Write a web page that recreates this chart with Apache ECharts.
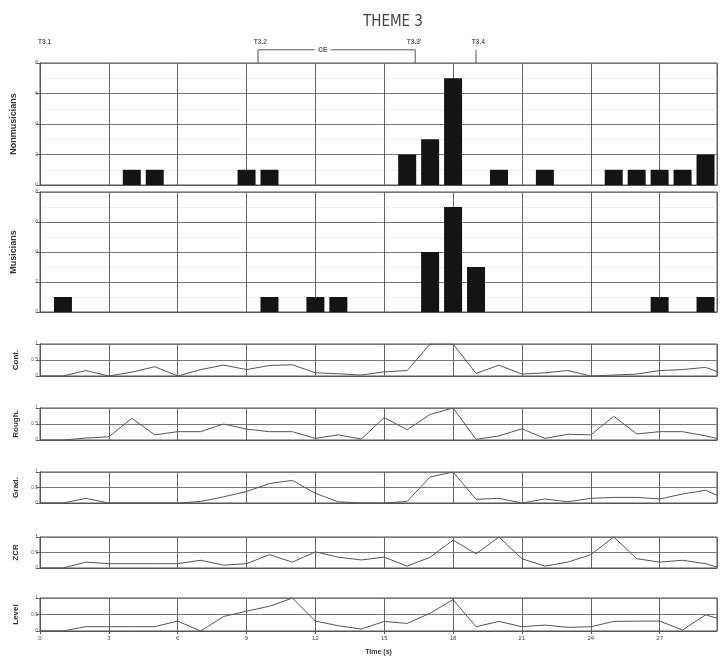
<!DOCTYPE html>
<html>
<head>
<meta charset="utf-8">
<script src="https://cdn.jsdelivr.net/npm/echarts@6/dist/echarts.min.js"></script>
<style>
  html, body { margin: 0; padding: 0; background: #fff; }
  #chart { width: 723px; height: 662px; }
</style>
</head>
<body>
<div id="chart"></div>
<script>
// time in seconds (bars are one per second)
var barTimes = [];
for (var s = 0; s <= 29; s++) barTimes.push(s);
var lineTimes = barTimes.concat([29.5]);

// number of listeners marking each second
var nonmusicians = [0,0,0,0,1,1,0,0,0,1,1,0,0,0,0,0,2,3,7,0,1,0,1,0,0,1,1,1,1,2];
var musicians    = [0,1,0,0,0,0,0,0,0,0,1,0,1,1,0,0,0,4,7,3,0,0,0,0,0,0,0,1,0,1];

// normalised acoustic features
var cont  = [0,0,0.17,0,0.12,0.29,0,0.2,0.34,0.2,0.33,0.35,0.1,0.07,0.03,0.13,0.17,1,1,0.08,0.34,0.06,0.1,0.17,0,0.03,0.06,0.17,0.2,0.27,0.14];
var rough = [0,0,0.06,0.1,0.68,0.16,0.26,0.26,0.5,0.34,0.26,0.26,0.05,0.16,0.03,0.7,0.32,0.8,1,0.02,0.13,0.35,0.05,0.18,0.16,0.74,0.19,0.26,0.26,0.13,0.05];
var grad  = [0,0,0.15,0,0,0,0,0.05,0.2,0.37,0.63,0.73,0.31,0.04,0,0,0.05,0.84,1,0.12,0.15,0,0.13,0.04,0.15,0.18,0.18,0.13,0.29,0.41,0.25];
var zcr   = [0,0,0.19,0.14,0.14,0.14,0.14,0.25,0.09,0.14,0.43,0.19,0.52,0.35,0.26,0.35,0.06,0.35,0.9,0.46,1,0.3,0.06,0.19,0.43,1,0.3,0.19,0.25,0.14,0.03];
var level = [0,0,0.13,0.13,0.13,0.13,0.3,0,0.44,0.6,0.75,1,0.3,0.16,0.06,0.29,0.23,0.54,0.95,0.13,0.29,0.13,0.18,0.11,0.13,0.29,0.3,0.3,0.03,0.49,0.39];

var panelNames = ['Nonmusicians', 'Musicians', 'Cont.', 'Rough.', 'Grad.', 'ZCR', 'Level'];
var panelData  = [nonmusicians, musicians, cont, rough, grad, zcr, level];

// segment annotations above the top panel
var annotLabels = ['T3.1', 'T3.2', "T3.3'", 'T3.4'];
var annotTimes  = [0.2, 9.6, 16.3, 19.1];
var bracketTimes = [9.5, 16.35];
var bracketLabel = 'CE';
var tickTime34 = 19;

var xMax = 29.5;
var xTickLabels = ['0', '3', '6', '9', '12', '15', '18', '21', '24', '27'];

// layout: [top, height] in px
var layout = [[63, 122], [192, 120], [344, 32], [408, 32], [472, 31], [537, 31], [598, 33]];

var chart = echarts.init(document.getElementById('chart'), null, { renderer: 'canvas' });

var grids = [], xAxes = [], yAxes = [], series = [];
var font = 'Liberation Sans, Arial, sans-serif';

layout.forEach(function (l, i) {
  var isBar = i < 2;
  var last = i === layout.length - 1;
  grids.push({ left: 40, right: 6, top: l[0], height: l[1], show: true, borderColor: '#555', borderWidth: 1 });
  xAxes.push({
    type: 'value', gridIndex: i, min: 0, max: xMax, interval: 3,
    axisLine: { show: true, lineStyle: { color: '#555' } },
    axisTick: { show: last, length: 3, lineStyle: { color: '#555' } },
    axisLabel: {
      show: last, fontSize: 6, color: '#444', margin: 4, fontFamily: font,
      showMaxLabel: false,
      formatter: function (v) { return xTickLabels[Math.round(v / 3)] || ''; }
    },
    splitLine: { show: true, lineStyle: { color: '#666', width: 1 } },
    name: last ? 'Time (s)' : '',
    nameLocation: 'middle', nameGap: 18,
    nameTextStyle: { fontSize: 7, fontWeight: 'bold', color: '#333', fontFamily: font }
  });
  yAxes.push({
    type: 'value', gridIndex: i, min: 0,
    max: isBar ? 8 : 1, interval: isBar ? 2 : 0.5,
    axisLine: { show: true, lineStyle: { color: '#555' } },
    axisTick: { show: true, length: 4, lineStyle: { color: '#666' } },
    axisLabel: { fontSize: 5, color: '#555', margin: 2, fontFamily: font },
    splitLine: { show: true, lineStyle: { color: '#777', width: 1 } },
    minorTick: { show: false, splitNumber: 2 },
    minorSplitLine: { show: isBar, lineStyle: { color: '#e2e2e2', type: 'dotted' } },
    name: panelNames[i], nameLocation: 'middle', nameRotate: 90,
    nameGap: isBar ? 22 : 19,
    nameTextStyle: { fontSize: isBar ? 9 : 8, fontWeight: 'bold', color: '#333', fontFamily: font }
  });
  var vals = panelData[i];
  if (isBar) {
    series.push({
      type: 'bar', xAxisIndex: i, yAxisIndex: i, barWidth: 18,
      itemStyle: { color: '#141414' }, silent: true, animation: false,
      data: barTimes.map(function (t, k) { return [t, vals[k]]; })
    });
  } else {
    series.push({
      type: 'line', xAxisIndex: i, yAxisIndex: i, showSymbol: false,
      lineStyle: { color: '#555', width: 1 }, silent: true, animation: false,
      data: lineTimes.map(function (t, k) { return [t, vals[k]]; })
    });
  }
});

// annotation strip above the top panel
var ai = layout.length;
grids.push({ left: 40, right: 6, top: 30, height: 33, show: false });
xAxes.push({ type: 'value', gridIndex: ai, min: 0, max: xMax, show: false });
yAxes.push({ type: 'value', gridIndex: ai, min: 0, max: 1, show: false });
series.push({
  type: 'line', xAxisIndex: ai, yAxisIndex: ai, showSymbol: false, animation: false, silent: true,
  lineStyle: { color: '#555', width: 1 }, z: 2,
  data: [[bracketTimes[0], 0], [bracketTimes[0], 0.4], [bracketTimes[1], 0.4], [bracketTimes[1], 0]]
});
series.push({
  type: 'line', xAxisIndex: ai, yAxisIndex: ai, showSymbol: false, animation: false, silent: true,
  lineStyle: { color: '#555', width: 1 }, z: 2,
  data: [[tickTime34, 0], [tickTime34, 0.4]]
});
series.push({
  type: 'scatter', xAxisIndex: ai, yAxisIndex: ai, symbolSize: 0, animation: false, silent: true, z: 10,
  label: { show: true, position: 'inside', formatter: '{b}', fontSize: 6.5, fontWeight: 'bold', color: '#333', fontFamily: font },
  data: annotLabels.map(function (n, k) { return { name: n, value: [annotTimes[k], 0.64] }; })
    .concat([{
      name: bracketLabel, value: [(bracketTimes[0] + bracketTimes[1]) / 2 - 0.6, 0.4],
      label: { backgroundColor: '#fff', padding: [1, 4] }
    }])
});

chart.setOption({
  animation: false,
  backgroundColor: '#fff',
  title: {
    text: 'THEME 3', left: 358, top: 10,
    textStyle: { fontSize: 15, fontWeight: 'normal', color: '#444', fontFamily: 'DejaVu Sans Condensed, Liberation Sans Narrow, sans-serif' }
  },
  grid: grids,
  xAxis: xAxes,
  yAxis: yAxes,
  series: series
});
</script>
</body>
</html>
